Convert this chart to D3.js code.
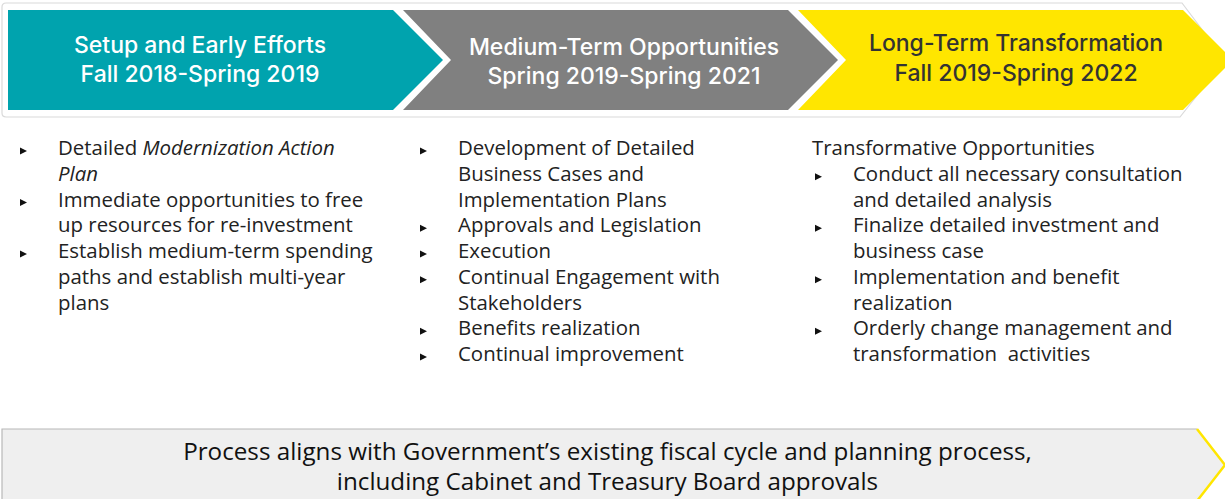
<!DOCTYPE html>
<html>
<head>
<meta charset="utf-8">
<script src="https://cdn.jsdelivr.net/npm/d3@7"></script>
<style>
  html, body { margin: 0; padding: 0; background: #fff; }
  svg { display: block; }
</style>
</head>
<body>
<svg id="chart" width="1225" height="499"></svg>
<script>
// ---------- DATA ----------
const phases = ["Setup and Early Efforts", "Medium-Term Opportunities", "Long-Term Transformation"];
const periods = ["Fall 2018-Spring 2019", "Spring 2019-Spring 2021", "Fall 2019-Spring 2022"];
const phaseColors = ["#00a3ae", "#808080", "#ffe600"];
const phaseTextColors = ["#ffffff", "#ffffff", "#333333"];

// each item = list of wrapped lines; *text* = italic
const earlyItems = [
  ["Detailed *Modernization Action*", "*Plan*"],
  ["Immediate opportunities to free", "up resources for re-investment"],
  ["Establish medium-term spending", "paths and establish multi-year", "plans"]
];
const mediumItems = [
  ["Development of Detailed", "Business Cases and", "Implementation Plans"],
  ["Approvals and Legislation"],
  ["Execution"],
  ["Continual Engagement with", "Stakeholders"],
  ["Benefits realization"],
  ["Continual improvement"]
];
const longHeading = "Transformative Opportunities";
const longItems = [
  ["Conduct all necessary consultation", "and detailed analysis"],
  ["Finalize detailed investment and", "business case"],
  ["Implementation and benefit", "realization"],
  ["Orderly change management and", "transformation  activities"]
];
const footerLines = [
  "Process aligns with Government\u2019s existing fiscal cycle and planning process,",
  "including Cabinet and Treasury Board approvals"
];

// ---------- LAYOUT ----------
const svg = d3.select("#chart");
const FONT = "'Open Sans', sans-serif";
const TITLE_FONT = "Inter, 'Open Sans', sans-serif";

function measure(sample, family, weight, size) {
  const t = svg.append("text").attr("font-family", family).attr("font-weight", weight)
    .attr("font-size", size).text(sample);
  const w = t.node().getComputedTextLength();
  t.remove();
  return w;
}
// fit a font size so that a sample string reaches a target width
function fitSize(sample, target, family, weight, base) {
  return base * target / measure(sample, family, weight, base);
}
const titleSize = Math.min(23, fitSize("Setup and Early Efforts", 267, TITLE_FONT, 500, 20));
const bodySize = fitSize("Establish medium-term spending", 315, FONT, 400, 20);
const footSize = fitSize(footerLines[0], 849, FONT, 400, 20);

const chevTop = 10, chevBot = 110, chevMid = 60, tip = 50;
const x = d3.scaleBand().domain(phases).range([8, 1183]).paddingInner(10 / 395).paddingOuter(0);
const bw = x.bandwidth();

// outer frame of header
svg.append("path")
  .attr("d", `M2,7 Q2,3 6,3 L1182,3 L1225,60 L1180,117 L6,117 Q2,117 2,113 Z`)
  .attr("fill", "#fff")
  .attr("stroke", "#dadada")
  .attr("stroke-width", 1.2);

// chevrons
const chev = svg.append("g").selectAll("g").data(phases).join("g");
chev.append("path")
  .attr("d", (d, i) => {
    const x0 = x(d), x1 = x0 + bw;
    const notch = i === 0 ? `L${x0},${chevMid}` : `L${x0 + tip - 2},${chevMid}`;
    return `M${x0},${chevTop} L${x1},${chevTop} L${x1 + tip},${chevMid} L${x1},${chevBot} L${x0},${chevBot} ${notch} Z`;
  })
  .attr("fill", (d, i) => phaseColors[i]);

const titleCx = [200, 624, 1016];
const titleY1 = [52.7, 55, 51];
const titleY2 = [81.7, 84, 81];
chev.each(function (d, i) {
  const g = d3.select(this);
  const t = g.append("text")
    .attr("text-anchor", "middle")
    .attr("fill", phaseTextColors[i])
    .attr("font-family", TITLE_FONT)
    .attr("font-weight", 500)
    .attr("font-size", titleSize);
  t.append("tspan").attr("x", titleCx[i]).attr("y", titleY1[i]).text(d);
  t.append("tspan").attr("x", titleCx[i]).attr("y", titleY2[i]).text(periods[i]);
});

// ---------- BULLET LISTS ----------
const lineH = 25.75;
const firstBase = 155;
const bodyColor = "#222";

function addRich(textSel, str) {
  const parts = str.split("*");
  parts.forEach((p, k) => {
    if (!p) return;
    textSel.append("tspan").attr("font-style", k % 2 ? "italic" : "normal").text(p);
  });
}

function drawList(items, bulletX, textX, startLine, heading) {
  const g = svg.append("g");
  let line = startLine;
  if (heading) {
    g.append("text").attr("x", bulletX - 3).attr("y", firstBase + line * lineH)
      .attr("font-family", FONT).attr("font-size", bodySize).attr("fill", bodyColor)
      .text(heading);
    line++;
  }
  items.forEach(item => {
    const by = firstBase + line * lineH - 4;
    g.append("path")
      .attr("d", `M${bulletX},${by - 3.5} L${bulletX + 7},${by} L${bulletX},${by + 3.5} Z`)
      .attr("fill", "#111");
    item.forEach(l => {
      const t = g.append("text").attr("x", textX).attr("y", firstBase + line * lineH)
        .attr("font-family", FONT).attr("font-size", bodySize).attr("fill", bodyColor)
        .attr("xml:space", "preserve").style("white-space", "pre");
      addRich(t, l);
      line++;
    });
  });
}

drawList(earlyItems, 20, 58, 0, null);
drawList(mediumItems, 420, 458, 0, null);
drawList(longItems, 815, 853, 0, longHeading);

// ---------- FOOTER BANNER ----------
const fTop = 429, fBot = 501, fMid = 465, fX0 = 2, fX1 = 1197, fTip = 1225;
svg.append("path")
  .attr("d", `M${fX0},${fTop} L${fX1},${fTop} L${fTip},${fMid} L${fX1},${fBot} L${fX0},${fBot} Z`)
  .attr("fill", "#efefef");
svg.append("path")
  .attr("d", `M${fX0},${fBot} L${fX0},${fTop} L${fX1},${fTop}`)
  .attr("fill", "none").attr("stroke", "#b8b8b8").attr("stroke-width", 1.2);
svg.append("path")
  .attr("d", `M${fX1},${fTop} L${fTip},${fMid} L${fX1},${fBot}`)
  .attr("fill", "none").attr("stroke", "#ffe600").attr("stroke-width", 2.5);

const ft = svg.append("text")
  .attr("text-anchor", "middle")
  .attr("font-family", FONT)
  .attr("font-size", footSize)
  .attr("fill", "#111");
footerLines.forEach((l, i) => {
  ft.append("tspan").attr("x", 607.5).attr("y", 460 + i * 30).text(l);
});
</script>
</body>
</html>
